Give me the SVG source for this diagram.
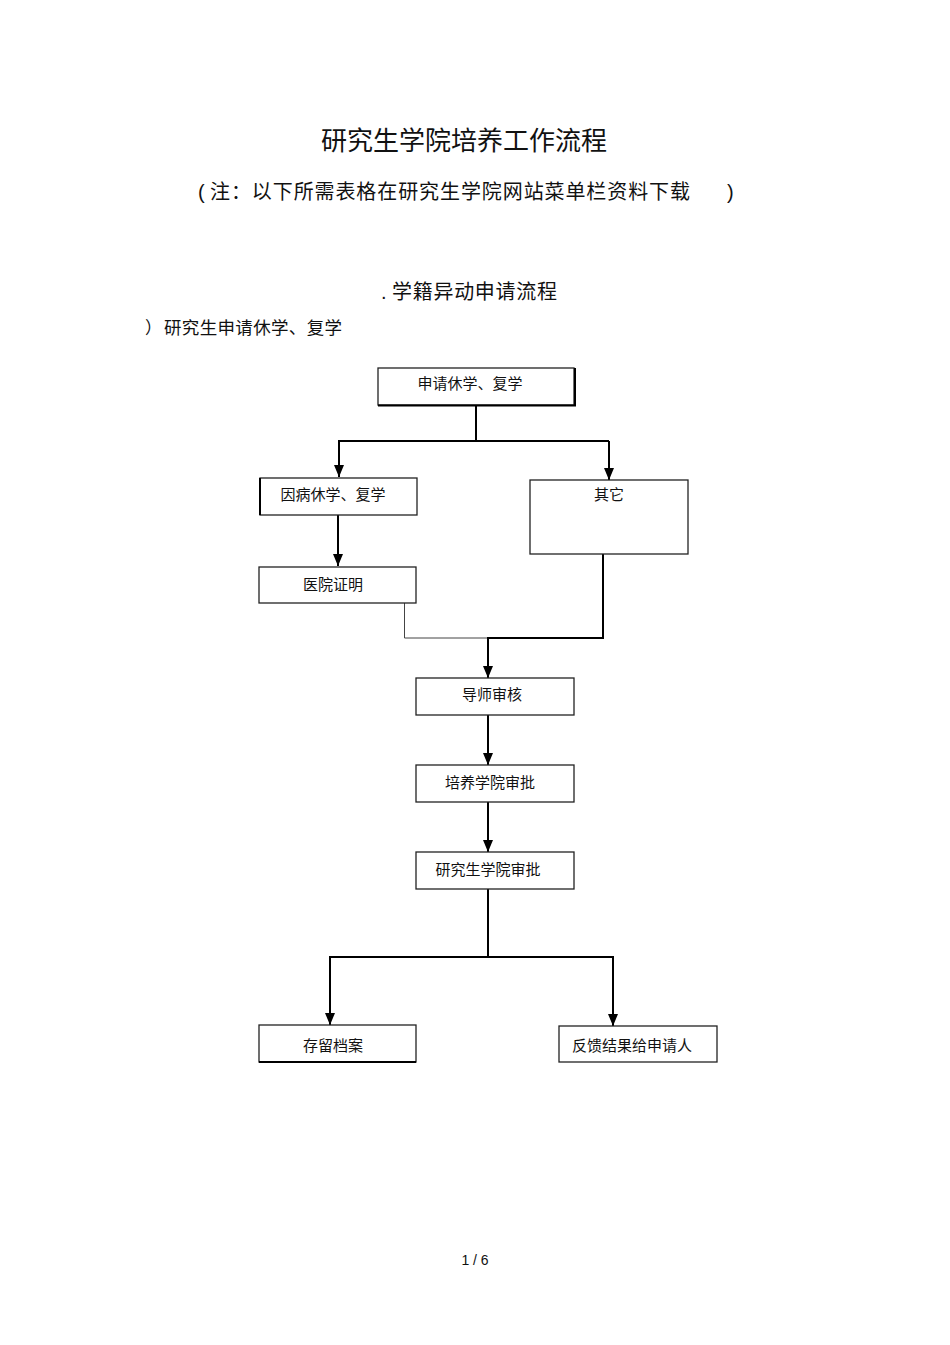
<svg xmlns="http://www.w3.org/2000/svg" width="950" height="1345" viewBox="0 0 950 1345">
<style>
text{font-family:"Liberation Sans","Noto Sans CJK SC",sans-serif;fill:#111}
.box{fill:#fff;stroke:#222;stroke-width:1.3}
.lbl{font-size:15px;text-anchor:middle}
.con{fill:none;stroke:#000;stroke-width:2}
.thin{fill:none;stroke:#444;stroke-width:1}
</style>
<defs>
<marker id="arr" viewBox="0 0 12 10" refX="12" refY="5" markerWidth="12" markerHeight="10" markerUnits="userSpaceOnUse" orient="auto">
<path d="M0,0 L12,5 L0,10 Z" fill="#000"/>
</marker>
</defs>
<rect width="950" height="1345" fill="#fff"/>
<text x="464" y="150" font-size="26" text-anchor="middle">研究生学院培养工作流程</text>
<text x="198" y="199" font-size="20">(</text>
<text x="210" y="199" font-size="20" textLength="480">注：以下所需表格在研究生学院网站菜单栏资料下载</text>
<text x="727" y="199" font-size="20">)</text>
<text x="381" y="299" font-size="20">.</text>
<text x="392" y="299" font-size="20" textLength="165">学籍异动申请流程</text>
<text x="145" y="334" font-size="17">）</text>
<text x="164" y="334" font-size="17.5" textLength="178">研究生申请休学、复学</text>

<g id="connectors">
<path class="con" d="M476,405 V441"/>
<path class="con" d="M338,441 H609"/>
<path class="con" d="M339,441 V477" marker-end="url(#arr)"/>
<path class="con" d="M609,441 V480" marker-end="url(#arr)"/>
<path class="con" d="M338,515 V566" marker-end="url(#arr)"/>
<path class="thin" d="M318,602.5 H404.5 V638 H488"/>
<path class="con" d="M603,554 V638 H487"/>
<path class="con" d="M488,637 V678" marker-end="url(#arr)"/>
<path class="con" d="M488,715 V765" marker-end="url(#arr)"/>
<path class="con" d="M488,802 V852" marker-end="url(#arr)"/>
<path class="con" d="M488,889 V957"/>
<path class="con" d="M330,957 H613"/>
<path class="con" d="M330,956 V1025" marker-end="url(#arr)"/>
<path class="con" d="M613,956 V1026" marker-end="url(#arr)"/>
</g>

<g id="n1">
<rect class="box" x="378" y="368" width="196" height="37"/>
<path d="M378,405.5 H575 V368" fill="none" stroke="#000" stroke-width="2"/>
<text class="lbl" x="470" y="389">申请休学、复学</text>
</g>
<g id="n2">
<rect class="box" x="260" y="478" width="157" height="37"/>
<path d="M260,478 V515" fill="none" stroke="#000" stroke-width="2"/>
<text class="lbl" x="333" y="500">因病休学、复学</text>
</g>
<g id="n3">
<rect class="box" x="530" y="480" width="158" height="74"/>
<text class="lbl" x="609" y="500">其它</text>
</g>
<g id="n4">
<rect class="box" x="259" y="567" width="157" height="36"/>
<text class="lbl" x="333" y="590">医院证明</text>
</g>
<g id="n5">
<rect class="box" x="416" y="678" width="158" height="37"/>
<text class="lbl" x="492" y="700">导师审核</text>
</g>
<g id="n6">
<rect class="box" x="416" y="765" width="158" height="37"/>
<text class="lbl" x="490" y="788">培养学院审批</text>
</g>
<g id="n7">
<rect class="box" x="416" y="852" width="158" height="37"/>
<text class="lbl" x="488" y="875">研究生学院审批</text>
</g>
<g id="n8">
<rect class="box" x="259" y="1025" width="157" height="37"/>
<path d="M259,1062 H416" fill="none" stroke="#000" stroke-width="2"/>
<text class="lbl" x="333" y="1051">存留档案</text>
</g>
<g id="n9">
<rect class="box" x="559" y="1026" width="158" height="36"/>
<text class="lbl" x="632" y="1051">反馈结果给申请人</text>
</g>
<text x="475" y="1265" font-size="14" text-anchor="middle">1 / 6</text>
</svg>
